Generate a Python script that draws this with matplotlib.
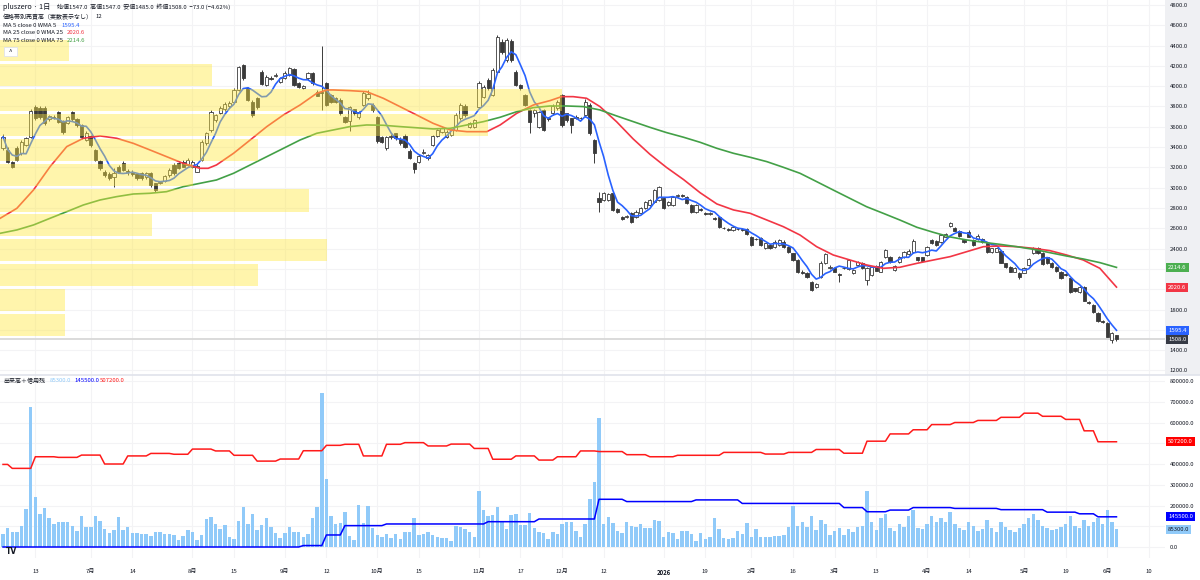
import numpy as np
import pandas as pd
import matplotlib
matplotlib.use("Agg")
import matplotlib.pyplot as plt
import matplotlib.transforms as mtransforms
from matplotlib.patches import Rectangle
from matplotlib.lines import Line2D
from matplotlib.ticker import FuncFormatter

plt.rcParams['font.family'] = ['Noto Sans CJK JP', 'DejaVu Sans']

# daily bars, index 0 = 2025-06-04, last = 2026-06-03
opens = [3390, 3372, 3250, 3388, 3339, 3421, 3503, 3792, 3790, 3790,
         3674, 3700, 3749, 3661, 3641, 3749, 3674, 3618, 3470, 3510,
         3372, 3263, 3158, 3135, 3109, 3208, 3247, 3160, 3158, 3135,
         3142, 3109, 3142, 3043, 3050, 3070, 3125, 3224, 3240, 3257,
         3224, 3201, 3158, 3273, 3437, 3569, 3667, 3740, 3772, 3800,
         3848, 3963, 4209, 3979, 3848, 3881, 4143, 4012, 4080, 4100,
         4045, 4078, 4111, 4166, 4035, 3979, 4078, 4127, 3946, 3946,
         4028, 3914, 3881, 3864, 3700, 3661, 3772, 3694, 3815, 3880,
         3815, 3700, 3503, 3388, 3500, 3536, 3480, 3510, 3365, 3240,
         3257, 3340, 3290, 3421, 3510, 3552, 3503, 3520, 3569, 3684,
         3805, 3602, 3602, 3799, 3897, 4061, 3914, 4143, 4439, 4258,
         4449, 4143, 4012, 3914, 3766, 3733, 3602, 3766, 3690, 3733,
         3782, 3914, 3733, 3684, 3700, 3690, 3717, 3815, 3470, 2896,
         2879, 2879, 2945, 2790, 2708, 2715, 2748, 2715, 2748, 2797,
         2830, 2863, 2879, 2896, 2830, 2830, 2920, 2925, 2912, 2830,
         2764, 2785, 2750, 2745, 2700, 2715, 2605, 2590, 2584, 2595,
         2590, 2590, 2511, 2495, 2502, 2403, 2436, 2419, 2436, 2469,
         2419, 2354, 2288, 2170, 2156, 2074, 2019, 2124, 2255, 2210,
         2206, 2150, 2205, 2196, 2156, 2239, 2262, 2091, 2140, 2229,
         2173, 2321, 2321, 2189, 2271, 2321, 2347, 2370, 2314, 2314,
         2337, 2485, 2475, 2468, 2518, 2623, 2600, 2577, 2480, 2567,
         2485, 2495, 2490, 2459, 2370, 2370, 2380, 2255, 2216, 2173,
         2163, 2163, 2239, 2360, 2409, 2360, 2314, 2262, 2216, 2173,
         2145, 2107, 2009, 1976, 2025, 1870, 1845, 1769, 1685, 1670,
         1500, 1547]
highs = [3530, 3400, 3260, 3410, 3470, 3500, 3780, 3810, 3800, 3800,
         3720, 3715, 3760, 3670, 3710, 3760, 3690, 3630, 3560, 3520,
         3380, 3270, 3170, 3150, 3190, 3220, 3260, 3180, 3170, 3140,
         3150, 3150, 3150, 3050, 3070, 3130, 3190, 3240, 3250, 3270,
         3290, 3270, 3230, 3470, 3550, 3770, 3730, 3800, 3840, 3850,
         3980, 4200, 4220, 3990, 3860, 3890, 4160, 4110, 4100, 4130,
         4090, 4150, 4190, 4180, 4045, 4010, 4140, 4140, 3960, 4396,
         4040, 3925, 3895, 3880, 3710, 3800, 3780, 3760, 3950, 3960,
         3830, 3710, 3510, 3510, 3530, 3540, 3500, 3530, 3380, 3250,
         3330, 3380, 3330, 3520, 3580, 3600, 3570, 3580, 3740, 3830,
         3820, 3650, 3680, 4050, 4010, 4080, 4180, 4500, 4460, 4470,
         4460, 4160, 4020, 3920, 3780, 3780, 3760, 3780, 3700, 3820,
         3860, 3925, 3740, 3690, 3720, 3700, 3870, 3830, 3480, 2961,
         2960, 2950, 2960, 2800, 2720, 2730, 2760, 2780, 2810, 2870,
         2890, 2990, 3020, 2910, 2870, 2920, 2935, 2940, 2920, 2840,
         2840, 2800, 2760, 2760, 2710, 2720, 2615, 2600, 2625, 2605,
         2600, 2600, 2520, 2505, 2510, 2460, 2445, 2480, 2495, 2480,
         2425, 2360, 2295, 2185, 2165, 2080, 2060, 2275, 2360, 2240,
         2215, 2160, 2220, 2300, 2200, 2280, 2270, 2215, 2225, 2240,
         2280, 2400, 2330, 2240, 2330, 2380, 2400, 2490, 2320, 2320,
         2430, 2495, 2485, 2545, 2555, 2665, 2610, 2585, 2490, 2580,
         2490, 2540, 2500, 2465, 2410, 2410, 2390, 2260, 2225, 2215,
         2170, 2215, 2305, 2420, 2420, 2370, 2320, 2270, 2225, 2180,
         2155, 2115, 2015, 2030, 2035, 1880, 1850, 1775, 1695, 1675,
         1580, 1547]
lows = [3370, 3240, 3190, 3260, 3320, 3410, 3490, 3670, 3680, 3620,
        3660, 3680, 3640, 3530, 3630, 3660, 3600, 3480, 3460, 3400,
        3260, 3170, 3110, 3080, 3010, 3150, 3160, 3130, 3120, 3080,
        3080, 3090, 3010, 2960, 3040, 3060, 3110, 3130, 3180, 3200,
        3210, 3190, 3150, 3260, 3420, 3550, 3650, 3730, 3760, 3790,
        3840, 3950, 4060, 3850, 3700, 3780, 4010, 4000, 4060, 4090,
        4030, 4070, 4100, 4000, 3985, 3970, 4060, 4010, 3900, 3766,
        3800, 3830, 3835, 3720, 3640, 3560, 3720, 3680, 3800, 3860,
        3750, 3440, 3440, 3370, 3480, 3470, 3420, 3390, 3280, 3148,
        3240, 3330, 3270, 3410, 3500, 3540, 3490, 3510, 3560, 3670,
        3700, 3590, 3590, 3790, 3880, 3960, 3900, 4130, 4320, 4240,
        4240, 4000, 3960, 3800, 3536, 3700, 3590, 3560, 3660, 3720,
        3770, 3600, 3650, 3536, 3680, 3670, 3700, 3520, 3247, 2764,
        2870, 2870, 2770, 2750, 2680, 2700, 2650, 2700, 2740, 2790,
        2820, 2850, 2870, 2790, 2820, 2820, 2910, 2910, 2840, 2750,
        2750, 2770, 2735, 2735, 2685, 2600, 2590, 2575, 2575, 2580,
        2575, 2535, 2425, 2480, 2425, 2395, 2395, 2410, 2425, 2410,
        2360, 2280, 2160, 2150, 2115, 1980, 2010, 2115, 2245, 2200,
        2165, 2074, 2195, 2185, 2145, 2230, 2195, 2042, 2130, 2175,
        2165, 2310, 2260, 2180, 2260, 2310, 2340, 2360, 2280, 2270,
        2330, 2450, 2430, 2460, 2510, 2615, 2570, 2515, 2460, 2510,
        2430, 2485, 2460, 2360, 2360, 2365, 2255, 2205, 2165, 2165,
        2100, 2155, 2230, 2350, 2345, 2240, 2245, 2205, 2170, 2100,
        2130, 1965, 1975, 1965, 1880, 1855, 1770, 1680, 1670, 1525,
        1470, 1485]
closes = [3500, 3257, 3208, 3273, 3447, 3487, 3756, 3684, 3694, 3634,
          3707, 3690, 3651, 3552, 3694, 3674, 3618, 3497, 3543, 3421,
          3273, 3191, 3125, 3093, 3148, 3158, 3175, 3150, 3135, 3093,
          3093, 3142, 3027, 2978, 3055, 3119, 3175, 3142, 3191, 3208,
          3273, 3257, 3214, 3454, 3536, 3749, 3717, 3782, 3825, 3831,
          3963, 4186, 4078, 3864, 3717, 3799, 4022, 4094, 4075, 4110,
          4078, 4134, 4176, 4012, 3996, 4002, 4127, 4028, 3907, 3930,
          3815, 3848, 3848, 3733, 3651, 3792, 3733, 3749, 3937, 3920,
          3766, 3464, 3454, 3503, 3510, 3487, 3440, 3405, 3290, 3181,
          3313, 3350, 3323, 3510, 3569, 3592, 3552, 3569, 3717, 3815,
          3717, 3634, 3667, 4029, 3996, 3979, 4160, 4482, 4341, 4455,
          4258, 4012, 3979, 3815, 3651, 3766, 3749, 3569, 3680, 3805,
          3848, 3618, 3667, 3618, 3690, 3684, 3848, 3536, 3339, 2863,
          2945, 2938, 2781, 2764, 2689, 2720, 2666, 2764, 2797, 2863,
          2879, 2978, 3010, 2797, 2863, 2912, 2925, 2920, 2846, 2764,
          2830, 2780, 2745, 2750, 2695, 2616, 2600, 2585, 2616, 2590,
          2585, 2544, 2436, 2490, 2436, 2452, 2403, 2469, 2485, 2419,
          2370, 2288, 2173, 2160, 2124, 1992, 2051, 2262, 2347, 2216,
          2173, 2140, 2210, 2288, 2189, 2271, 2206, 2206, 2216, 2183,
          2271, 2386, 2271, 2229, 2321, 2370, 2380, 2478, 2288, 2281,
          2419, 2459, 2436, 2534, 2544, 2656, 2577, 2524, 2470, 2518,
          2436, 2520, 2470, 2370, 2403, 2403, 2262, 2216, 2173, 2206,
          2124, 2206, 2294, 2409, 2354, 2248, 2255, 2216, 2183, 2107,
          2138, 1976, 1986, 2019, 1887, 1865, 1779, 1690, 1680, 1533,
          1566, 1508]

# volume, thousand shares
volume_k = [63, 90, 74, 74, 103, 182, 673, 239, 158, 186,
            142, 111, 121, 121, 121, 101, 77, 150, 98, 97,
            150, 125, 87, 69, 82, 146, 82, 98, 69, 66,
            65, 63, 53, 74, 74, 61, 61, 58, 34, 53,
            82, 74, 34, 58, 137, 146, 109, 85, 106, 47,
            37, 125, 191, 111, 158, 82, 106, 138, 98, 66,
            43, 66, 98, 74, 72, 50, 63, 138, 191, 740,
            326, 150, 111, 114, 167, 53, 34, 202, 114, 198,
            93, 58, 50, 63, 42, 63, 37, 74, 71, 138,
            58, 63, 74, 56, 50, 45, 42, 31, 103, 98,
            85, 72, 47, 270, 178, 151, 153, 193, 125, 87,
            153, 159, 104, 104, 162, 90, 74, 69, 39, 74,
            63, 111, 121, 121, 79, 48, 109, 233, 312, 623,
            111, 146, 114, 77, 66, 119, 103, 95, 111, 93,
            93, 130, 125, 50, 71, 66, 40, 77, 77, 61,
            31, 69, 37, 47, 140, 87, 45, 37, 45, 77,
            63, 114, 50, 87, 50, 50, 50, 52, 53, 58,
            95, 198, 103, 120, 95, 150, 80, 130, 110, 60,
            75, 90, 60, 85, 70, 95, 100, 270, 120, 80,
            140, 160, 90, 75, 110, 95, 150, 180, 90, 85,
            110, 150, 120, 140, 120, 170, 110, 90, 80, 120,
            100, 75, 85, 130, 90, 70, 120, 95, 80, 70,
            90, 110, 140, 160, 130, 100, 90, 80, 85, 95,
            110, 150, 100, 90, 130, 100, 120, 140, 110, 180,
            120, 85.3]

# moving averages (bar index, value)
ma25_idx = [-0.6, 3.0, 6.6, 10.2, 13.8, 17.4, 21.0, 24.6, 28.2, 31.8, 35.4, 39.0,
            42.6, 44.4, 46.2, 49.9, 53.5, 57.1, 60.7, 64.3, 67.9, 70.1, 71.5, 75.1,
            78.7, 82.3, 85.9, 89.5, 93.1, 96.8, 100.4, 104.7, 107.6, 111.2, 114.8,
            118.4, 120.9, 123.4, 126.3, 129.2, 132.8, 136.4, 140.0, 143.6, 147.3,
            150.9, 154.5, 158.1, 161.7, 165.3, 168.9, 172.5, 176.1, 179.7, 183.3,
            186.9, 190.5, 194.1, 197.8, 201.4, 205.0, 208.6, 212.2, 215.8, 219.4,
            223.0, 226.6, 230.2, 233.8, 237.4, 241.0]
ma25_val = [2699, 2797, 2978, 3208, 3405, 3487, 3510, 3487, 3437, 3372, 3306, 3240,
            3191, 3191, 3224, 3339, 3470, 3602, 3717, 3815, 3930, 3963, 3963, 3956,
            3946, 3881, 3799, 3717, 3634, 3569, 3552, 3552, 3618, 3733, 3815,
            3858, 3897, 3897, 3881, 3799, 3650, 3480, 3330, 3200, 3080,
            2950, 2840, 2781, 2748, 2682, 2616, 2534, 2419, 2337, 2288,
            2239, 2206, 2216, 2255, 2288, 2321, 2370, 2419, 2426, 2419,
            2403, 2380, 2337, 2288, 2206, 2021]
ma75_idx = [-0.6, 3.0, 6.6, 10.2, 13.8, 17.4, 21.0, 24.6, 28.2, 31.8, 35.4, 39.0,
            42.6, 46.2, 49.9, 53.5, 57.1, 60.7, 64.3, 67.9, 71.5, 75.1, 78.7, 82.3,
            85.9, 93.1, 96.8, 100.4, 104.0, 107.6, 111.2, 114.8, 118.4, 122.0, 125.6,
            129.2, 132.8, 136.4, 140.0, 143.6, 147.3, 150.9, 154.5, 158.1, 161.7,
            165.3, 168.9, 172.5, 175.4, 179.7, 183.3, 186.9, 190.5, 194.1, 197.8,
            201.4, 205.0, 208.6, 212.2, 215.8, 219.4, 223.0, 226.6, 230.2, 233.8,
            237.4, 241.0]
ma75_val = [2551, 2584, 2633, 2699, 2764, 2830, 2879, 2912, 2938, 2945, 2961, 3010,
            3043, 3076, 3142, 3224, 3306, 3388, 3470, 3536, 3569, 3602, 3618, 3615,
            3602, 3579, 3585, 3618, 3651, 3694, 3749, 3789, 3805, 3805, 3799,
            3766, 3707, 3651, 3595, 3543, 3497, 3447, 3388, 3339, 3300,
            3257, 3201, 3142, 3076, 2977, 2895, 2813, 2748, 2682, 2610,
            2560, 2515, 2485, 2462, 2442, 2419, 2393, 2360, 2327, 2298,
            2262, 2215]

# margin balances (thousand shares), weekly steps: first bar of the week, value
sell_start = [0, 2, 7, 12, 17, 22, 27, 32, 37, 41, 46, 50, 55, 60, 65, 70, 74, 78, 83,
              87, 92, 97, 102, 106, 111, 116, 120, 125, 129, 135, 140, 146, 156, 165,
              170, 176, 182, 187, 192, 197, 201, 206, 211, 216, 221, 225, 230, 234, 237]
sell_val = [398, 379, 435, 432, 443, 400, 439, 451, 447, 472, 463, 442, 414, 424, 464,
            490, 495, 439, 495, 503, 487, 496, 475, 423, 439, 419, 435, 463, 460, 445,
            435, 442, 456, 448, 456, 470, 452, 510, 545, 565, 590, 600, 610, 625, 645,
            630, 615, 560, 507.2]
buy_start = [0, 65, 70, 74, 83, 105, 116, 129, 135, 150, 160, 173, 182, 187, 192, 197,
             206, 216, 226, 233, 237]
buy_val = [0, 7, 58, 103, 111, 122, 135, 230, 219, 227, 210, 210, 190, 170, 178, 190,
           186, 180, 168, 160, 145.5]

# volume profile rows (price band, volume)
vp_top = [4455, 4219, 3972, 3726, 3480, 3233, 2987, 2741, 2495, 2248, 2002, 1756]
vp_bottom = [4248, 4002, 3756, 3509, 3263, 3017, 2761, 2524, 2278, 2032, 1785, 1539]
vp_volume = [69, 212, 562, 488, 258, 193, 309, 152, 327, 258, 65, 65]

tick_pos = [7, 19, 28, 41, 50, 61, 70, 81, 90, 103, 112, 121, 130, 143, 152, 162,
            171, 180, 189, 200, 209, 221, 230, 239, 248]
tick_lbl = ['13', '7月', '14', '8月', '15', '9月', '12', '10月', '15', '11月', '17',
            '12月', '12', '2026', '19', '2月', '16', '3月', '13', '4月', '14', '5月',
            '19', '6月', '10']

W, H = 1200, 580
PANE_R, PRICE_BOT, VOL_BOT = 1165, 375, 558
TXT = '#131722'
FS = 4.3


def fx(px):
    return px / W


def fy(py):
    return 1 - py / H


def steps(starts, vals, last):
    xs, ys = [], []
    for k, (s, v) in enumerate(zip(starts, vals)):
        e = starts[k + 1] - 1 if k + 1 < len(starts) else last
        xs += [s, e]
        ys += [v * 1000, v * 1000]
    return xs, ys


def scale_fmt(hidden):
    # labels sitting under a last-value tag are not shown on the scale
    return FuncFormatter(lambda v, p: '' if round(v) in hidden else f'{v:.1f}')


fig = plt.figure(figsize=(12, 5.8), dpi=100)
ax = fig.add_axes([0, fy(PRICE_BOT), fx(PANE_R), PRICE_BOT / H])
axv = fig.add_axes([0, fy(VOL_BOT), fx(PANE_R), (VOL_BOT - PRICE_BOT) / H], sharex=ax)

# grey price-scale band
fig.add_artist(Rectangle((fx(PANE_R), fy(PRICE_BOT)), 1 - fx(PANE_R), PRICE_BOT / H,
                         transform=fig.transFigure, fc='#eff0f3', ec='none', zorder=-1))

o = np.array(opens, float)
h = np.array(highs, float)
l = np.array(lows, float)
c = np.array(closes, float)
x = np.arange(len(c))
up = c >= o
body_lo = np.minimum(o, c)
body_h = np.maximum(np.abs(c - o), 6)

dark = '#3a3a3a'
ax.vlines(x, l, h, colors=dark, lw=0.7, zorder=2)
ax.bar(x[up], body_h[up], bottom=body_lo[up], width=0.7, color='white',
       edgecolor=dark, lw=0.6, zorder=3)
ax.bar(x[~up], body_h[~up], bottom=body_lo[~up], width=0.7, color=dark,
       edgecolor=dark, lw=0.6, zorder=3)

ma5 = pd.Series(c).rolling(5, min_periods=1).mean()
ax.plot(x, ma5, color='#2962ff', lw=1.2, zorder=4)
ax.plot(ma25_idx, ma25_val, color='#f23645', lw=1.2, zorder=4)
ax.plot(ma75_idx, ma75_val, color='#43a047', lw=1.2, zorder=4)
ax.axhline(closes[-1], color='#d8d8d8', lw=1.3, zorder=1)

ax.set_ylim(1155, 4849)
ax.set_xlim(-0.65, 251.5)
ax.set_yticks(np.arange(1200, 4801, 200))
ax.yaxis.tick_right()
ax.yaxis.set_major_formatter(scale_fmt({1600, 2000, 2200}))
ax.tick_params(axis='y', length=0, pad=3.5, labelsize=FS, labelcolor=TXT)
ax.tick_params(axis='x', length=0, labelbottom=False)
ax.set_xticks(tick_pos)
ax.grid(True, color='#f3f3f5', lw=0.8)
ax.set_axisbelow(True)
for s in ax.spines.values():
    s.set_visible(False)

# volume profile overlay
axp = ax.twiny()
axp.set_xlim(0, max(vp_volume) / (562 / PANE_R))
centers = [(a + b) / 2 for a, b in zip(vp_top, vp_bottom)]
heights = [a - b for a, b in zip(vp_top, vp_bottom)]
axp.barh(centers, vp_volume, height=heights, left=0, color='#ffe83b', alpha=0.42,
         lw=0, zorder=5)
axp.axis('off')

# volume pane
vol = np.array(volume_k) * 1000
axv.bar(x, vol, width=0.75, color='#90caf9', zorder=2)
sx, sy = steps(sell_start, sell_val, x[-1])
bx, by = steps(buy_start, buy_val, x[-1])
axv.plot(sx, sy, color='#ff1a1a', lw=1.1, zorder=3)
axv.plot(bx, by, color='#0000ff', lw=1.1, zorder=3)
axv.set_ylim(-53000, 829000)
axv.set_yticks(np.arange(0, 800001, 100000))
axv.yaxis.tick_right()
axv.yaxis.set_major_formatter(scale_fmt({100000}))
axv.tick_params(axis='y', length=0, pad=3.5, labelsize=FS, labelcolor=TXT)
axv.set_xticks(tick_pos)
axv.set_xticklabels(tick_lbl)
axv.tick_params(axis='x', length=0, pad=8, labelsize=FS, labelcolor=TXT)
for t in axv.get_xticklabels():
    if t.get_text() == '2026':
        t.set_fontweight('bold')
axv.grid(True, color='#f3f3f5', lw=0.8)
axv.set_axisbelow(True)
for s in axv.spines.values():
    s.set_visible(False)

fig.add_artist(Line2D([0, 1], [fy(PRICE_BOT), fy(PRICE_BOT)], transform=fig.transFigure,
                      color='#e0e3eb', lw=1.2))

# last-value tags on the scales
tp = mtransforms.blended_transform_factory(fig.transFigure, ax.transData)
tv = mtransforms.blended_transform_factory(fig.transFigure, axv.transData)
for val, col, tc, tr in [(ma75_val[-1] - 0.4, '#4caf50', 'white', tp),
                         (2020.6, '#f23645', 'white', tp),
                         (1595.4, '#2962ff', 'white', tp),
                         (closes[-1], '#363a45', 'white', tp),
                         (sell_val[-1] * 1000, '#ff0000', 'white', tv),
                         (buy_val[-1] * 1000, '#0000ff', 'white', tv),
                         (volume_k[-1] * 1000, '#90caf9', TXT, tv)]:
    fig.text(fx(1168), val, f'{val:.1f}', transform=tr, fontsize=FS, color=tc,
             ha='left', va='center', zorder=6,
             bbox=dict(boxstyle='square,pad=0.35', fc=col, ec='none'))

# legend texts
fig.text(fx(3), fy(7), 'pluszero · 1日', fontsize=5.2, color=TXT, va='center')
fig.text(fx(57), fy(7), '始値1547.0  高値1547.0  安値1485.0  終値1508.0  −73.0 (−4.62%)',
         fontsize=FS, color=TXT, va='center')
fig.text(fx(3), fy(17), '価格帯別売買高（実数表示なし）', fontsize=FS, color=TXT, va='center')
fig.text(fx(95), fy(17), '12', fontsize=FS, color=TXT, va='center')
for yy, name, val, col, vx in [(25.5, 'MA 5 close 0 WMA 5', 1595.4, '#2962ff', 61),
                               (33, 'MA 25 close 0 WMA 25', 2020.6, '#f23645', 67),
                               (41, 'MA 75 close 0 WMA 75', 2214.6, '#43a047', 67)]:
    fig.text(fx(3), fy(yy), name, fontsize=FS, color=TXT, va='center')
    fig.text(fx(vx), fy(yy), f'{val:.1f}', fontsize=FS, color=col, va='center')

fig.add_artist(Rectangle((fx(4), fy(56)), fx(13), 9 / H, transform=fig.transFigure,
                         fc='white', ec='#e0e3eb', lw=0.6, zorder=7))
fig.text(fx(10.5), fy(51.5), '^', fontsize=4.5, color=TXT, ha='center', va='center', zorder=8)

fig.text(fx(3), fy(381), '出来高＋信用残', fontsize=FS, color=TXT, va='center')
fig.text(fx(50), fy(381), '85300.0', fontsize=FS, color='#90caf9', va='center')
fig.text(fx(74), fy(381), '145500.0', fontsize=FS, color='#0000ff', va='center')
fig.text(fx(100), fy(381), '507200.0', fontsize=FS, color='#ff1a1a', va='center')

fig.text(fx(12), fy(551), 'TV', fontsize=5.5, fontweight='bold', color=TXT,
         ha='center', va='center', family='DejaVu Sans')

fig.savefig('out.png', dpi=100)
